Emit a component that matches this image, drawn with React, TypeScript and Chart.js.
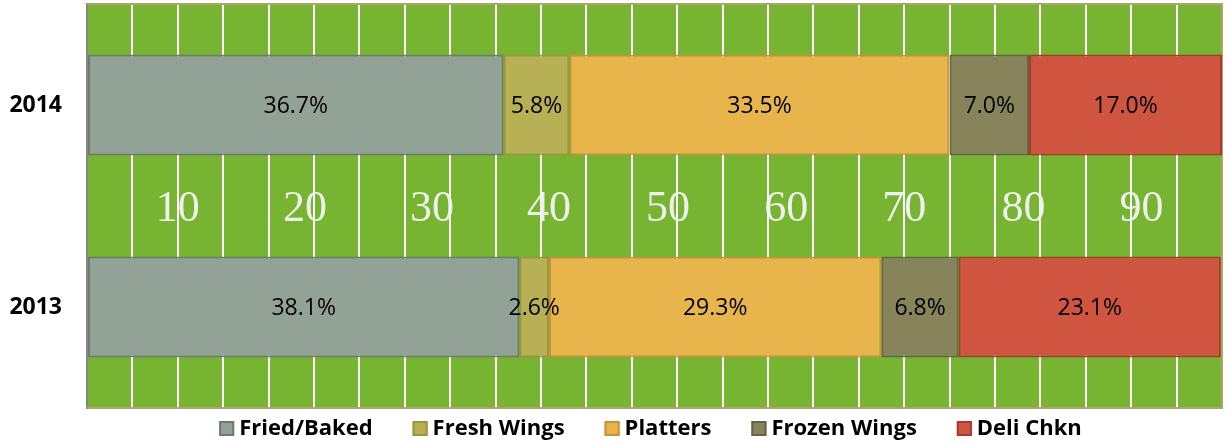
import React, { useEffect, useRef } from 'react';
import { Chart, registerables } from 'chart.js';

Chart.register(...registerables);

// ---- data ----
const years = ['2014', '2013'];
const seriesNames = ['Fried/Baked', 'Fresh Wings', 'Platters', 'Frozen Wings', 'Deli Chkn'];
const friedBaked = [36.7, 38.1];
const freshWings = [5.8, 2.6];
const platters = [33.5, 29.3];
const frozenWings = [7.0, 6.8];
const deliChkn = [17.0, 23.1];
const seriesValues = [friedBaked, freshWings, platters, frozenWings, deliChkn];

const fillColors = ['#92A297', '#B8B055', '#E8B44C', '#87845B', '#D05540'];
const borderColors = ['#6F7A73', '#9C9540', '#C8913A', '#62634A', '#A83A2B'];

// decorative field markings (percent positions on the x scale)
const yardLabels = ['10', '20', '30', '40', '50', '60', '70', '80', '90'];
const yardPositions = [8.0, 19.2, 30.4, 40.7, 51.2, 61.6, 72.0, 82.5, 92.9];
const axisMin = 0;
const axisMax = 100;
const yardLineStep = 4;

const FIELD_GREEN = '#76B432';
const FIELD_EDGE = '#B3A46A';

const fieldPlugin = {
  id: 'field',
  beforeDraw(chart: any) {
    const { ctx, chartArea: a } = chart;
    ctx.save();
    ctx.fillStyle = FIELD_GREEN;
    ctx.fillRect(a.left, a.top, a.right - a.left, a.bottom - a.top);
    ctx.restore();
  },
  beforeDatasetsDraw(chart: any) {
    const { ctx, chartArea: a, scales } = chart;
    const x = scales.x;
    const y = scales.y;
    ctx.save();
    // field edge (top, right, bottom)
    ctx.strokeStyle = FIELD_EDGE;
    ctx.lineWidth = 2;
    ctx.beginPath();
    ctx.moveTo(a.left, a.top);
    ctx.lineTo(a.right, a.top);
    ctx.lineTo(a.right, a.bottom);
    ctx.lineTo(a.left, a.bottom);
    ctx.stroke();
    // yard numbers
    const yc = (y.getPixelForValue(0) + y.getPixelForValue(1)) / 2;
    ctx.fillStyle = 'rgba(242,242,242,0.97)';
    ctx.font = '44px "Liberation Serif", "DejaVu Serif", serif';
    ctx.textAlign = 'center';
    ctx.textBaseline = 'alphabetic';
    yardLabels.forEach((t, i) => {
      ctx.fillText(t, x.getPixelForValue(yardPositions[i]), yc + 15);
    });
    ctx.restore();
  },
  afterDatasetsDraw(chart: any) {
    const { ctx } = chart;
    ctx.save();
    ctx.fillStyle = '#000';
    ctx.font = '23px "Open Sans", sans-serif';
    ctx.textAlign = 'center';
    ctx.textBaseline = 'alphabetic';
    chart.data.datasets.forEach((ds: any, di: number) => {
      const meta = chart.getDatasetMeta(di);
      meta.data.forEach((el: any, i: number) => {
        const v = ds.data[i];
        const cx = (el.x + el.base) / 2;
        ctx.fillText(v.toFixed(1) + '%', cx, el.y + 8);
      });
    });
    ctx.restore();
  },
  afterDraw(chart: any) {
    const { ctx, chartArea: a } = chart;
    ctx.save();
    ctx.font = 'bold 22px "Open Sans", sans-serif';
    const box = 15;
    const gap = 5;
    const itemGap = 40;
    const widths = chart.data.datasets.map((ds: any) => ctx.measureText(ds.label).width);
    const total =
      widths.reduce((s: number, w: number) => s + box + gap + w, 0) + itemGap * (widths.length - 1);
    let cx = (a.left + a.right) / 2 - total / 2 - 4;
    const top = a.bottom + 13;
    chart.data.datasets.forEach((ds: any, i: number) => {
      ctx.fillStyle = ds.backgroundColor;
      ctx.fillRect(cx, top, box, box);
      ctx.strokeStyle = ds.borderColor;
      ctx.lineWidth = 2;
      ctx.strokeRect(cx + 1, top + 1, box - 2, box - 2);
      ctx.fillStyle = '#000';
      ctx.textAlign = 'left';
      ctx.textBaseline = 'alphabetic';
      ctx.fillText(ds.label, cx + box + gap, top + 14);
      cx += box + gap + widths[i] + itemGap;
    });
    ctx.restore();
  },
};

export default function App() {
  const ref = useRef<HTMLCanvasElement | null>(null);

  useEffect(() => {
    if (!ref.current) return;
    const chart = new Chart(ref.current, {
      type: 'bar',
      data: {
        labels: years,
        datasets: seriesNames.map((name, i) => ({
          label: name,
          data: seriesValues[i],
          backgroundColor: fillColors[i],
          borderColor: borderColors[i],
          borderWidth: 2,
          borderSkipped: false,
          barPercentage: 1,
          categoryPercentage: 0.5,
        })),
      },
      options: {
        indexAxis: 'y',
        animation: false,
        responsive: false,
        maintainAspectRatio: false,
        layout: { padding: { left: 0, right: 8, top: 4, bottom: 35 } },
        plugins: {
          legend: { display: false },
          tooltip: { enabled: false },
        },
        scales: {
          x: {
            stacked: true,
            min: axisMin,
            max: axisMax,
            ticks: { display: false, stepSize: yardLineStep, maxTicksLimit: 40 },
            grid: {
              drawTicks: false,
              lineWidth: 2,
              color: (c: any) =>
                c.tick && (c.tick.value === axisMin || c.tick.value === axisMax)
                  ? 'rgba(0,0,0,0)'
                  : '#FFFFFF',
            },
            border: { display: false },
          },
          y: {
            stacked: true,
            afterFit: (s: any) => {
              s.width = 87;
              s.paddingTop = 0;
              s.paddingBottom = 0;
            },
            grid: { display: false, drawTicks: false },
            border: { display: true, color: '#868686', width: 2 },
            ticks: {
              padding: 25,
              color: '#000',
              font: { family: '"Open Sans", sans-serif', size: 23, weight: 'bold' },
            },
          },
        },
      },
      plugins: [fieldPlugin],
    });
    return () => chart.destroy();
  }, []);

  return (
    <div style={{ position: 'fixed', left: 0, top: 0, width: 1230, height: 443, background: '#fff' }}>
      <canvas ref={ref} width={1230} height={443} style={{ display: 'block' }} />
    </div>
  );
}
